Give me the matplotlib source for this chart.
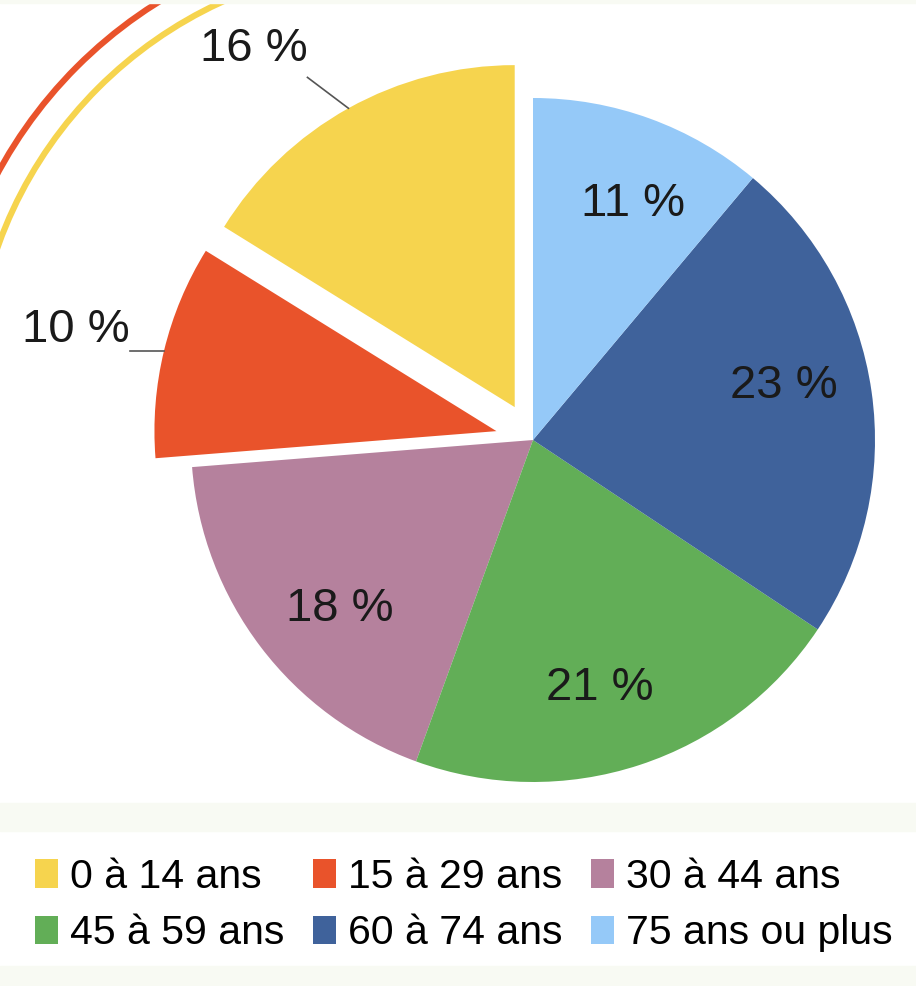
import numpy as np
import matplotlib.pyplot as plt
from matplotlib.patches import Arc, Rectangle

# Age groups and shares (%)
categories = ['0 à 14 ans', '15 à 29 ans', '30 à 44 ans',
              '45 à 59 ans', '60 à 74 ans', '75 ans ou plus']
shares = [16, 10, 18, 21, 23, 11]
colors = ['#F6D44E', '#E9532B', '#B5819D', '#62AE57', '#3F629B', '#95C9F8']
explode = [0.11, 0.11, 0, 0, 0, 0]
outside = [True, True, False, False, False, False]
# small angle nudges (degrees) for the inside labels
label_turn = [0, 0, 4, -3, 4, -3]

plt.rcParams['font.family'] = ['Liberation Sans', 'DejaVu Sans']

W, H = 916, 986
fig = plt.figure(figsize=(W / 100, H / 100), dpi=100)
fig.patch.set_facecolor('white')

# light bands of the page background
band = '#F8FAF3'
for y0, y1 in [(803, 831), (966, 986), (0, 3)]:
    fig.patches.append(Rectangle((0, 1 - y1 / H), 1, (y1 - y0) / H,
                                 transform=fig.transFigure, color=band, zorder=0))

# pie geometry in pixels
cx, cy, r = 533, 440, 342
ax = fig.add_axes([0, 0, 1, 1])
ax.patch.set_alpha(0)

wedges, _ = ax.pie(shares, colors=colors, explode=explode, startangle=90,
                   counterclock=True, radius=1, center=(0, 0),
                   wedgeprops=dict(linewidth=0))
for w in wedges:
    w.set_zorder(2)

ax.set_aspect('auto')
ax.set_xlim(-cx / r, (W - cx) / r)
ax.set_ylim(-(H - cy) / r, cy / r)
ax.axis('off')

# decorative arcs upper left
acx, acy = (400 - cx) / r, (cy - 390) / r
for rad, col in [(457, '#E9532B'), (427, '#F6D44E')]:
    ax.add_patch(Arc((acx, acy), 2 * rad / r, 2 * rad / r, theta1=95, theta2=175,
                     color=col, lw=4.4, zorder=1))

for w, val, out, turn in zip(wedges, shares, outside, label_turn):
    mid = np.deg2rad((w.theta1 + w.theta2) / 2)
    ox, oy = w.center
    txt = '{} %'.format(val)
    if not out:
        a = mid + np.deg2rad(turn)
        ax.text(ox + 0.75 * np.cos(a), oy + 0.75 * np.sin(a), txt,
                ha='center', va='center', fontsize=34, color='#1a1a1a', zorder=3)
    else:
        x0, y0 = ox + np.cos(mid), oy + np.sin(mid)
        if np.sin(mid) > 0.5:
            lead = np.deg2rad(143)
            x1, y1 = x0 + 0.15 * np.cos(lead), y0 + 0.15 * np.sin(lead)
            ax.plot([x0, x1], [y0, y1], color='#555555', lw=1.2, zorder=3)
            ax.text(x1, y1 + 0.02, txt, ha='right', va='bottom',
                    fontsize=34, color='#1a1a1a')
        else:
            x1 = x0 - 0.1
            ax.plot([x0, x1], [y0, y0], color='#555555', lw=1.2, zorder=3)
            ax.text(x1, y0 - 0.005, txt, ha='right', va='bottom',
                    fontsize=34, color='#1a1a1a')

# legend in rows of three (matplotlib fills by column)
order = [0, 3, 1, 4, 2, 5]
fig.legend([wedges[i] for i in order], [categories[i] for i in order],
           ncol=3, loc='center', bbox_to_anchor=(464 / W, 1 - 905 / H),
           frameon=False, fontsize=29.5, handlelength=0.55, handleheight=0.7,
           handletextpad=0.3, columnspacing=0.7, labelspacing=0.45, borderpad=0)

fig.savefig('out.png', dpi=100)
